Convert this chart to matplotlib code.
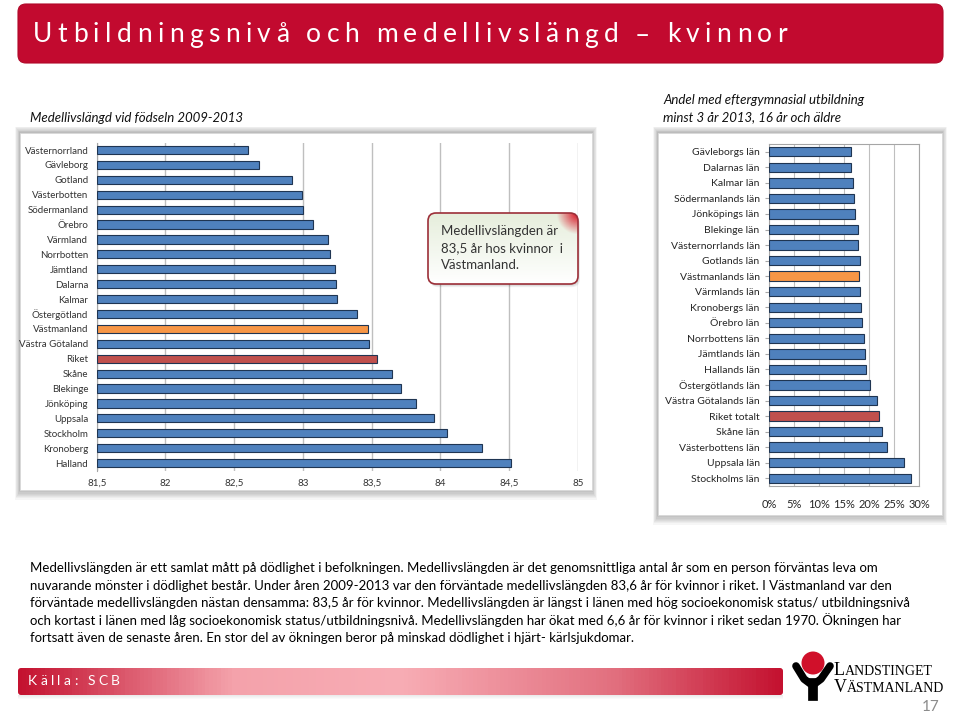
import numpy as np
import matplotlib.pyplot as plt
from matplotlib.patches import FancyBboxPatch, Rectangle, Circle
from matplotlib.colors import LinearSegmentedColormap
from matplotlib.ticker import FuncFormatter, MultipleLocator

# ---------- data ----------
lan_vanster = ["Västernorrland", "Gävleborg", "Gotland", "Västerbotten", "Södermanland",
               "Örebro", "Värmland", "Norrbotten", "Jämtland", "Dalarna", "Kalmar",
               "Östergötland", "Västmanland", "Västra Götaland", "Riket", "Skåne",
               "Blekinge", "Jönköping", "Uppsala", "Stockholm", "Kronoberg", "Halland"]
livslangd = [82.60, 82.68, 82.92, 82.99, 83.00, 83.07, 83.18, 83.20, 83.23, 83.24, 83.25,
             83.39, 83.47, 83.48, 83.54, 83.65, 83.71, 83.82, 83.95, 84.05, 84.30, 84.51]
livslangd_ticks = [81.5, 82, 82.5, 83, 83.5, 84, 84.5, 85]

lan_hoger = ["Gävleborgs län", "Dalarnas län", "Kalmar län", "Södermanlands län",
             "Jönköpings län", "Blekinge län", "Västernorrlands län", "Gotlands län",
             "Västmanlands län", "Värmlands län", "Kronobergs län", "Örebro län",
             "Norrbottens län", "Jämtlands län", "Hallands län", "Östergötlands län",
             "Västra Götalands län", "Riket totalt", "Skåne län", "Västerbottens län",
             "Uppsala län", "Stockholms län"]
andel_utb = [16.3, 16.3, 16.7, 16.9, 17.2, 17.8, 17.8, 18.1, 18.0, 18.1, 18.3, 18.5,
             18.9, 19.1, 19.4, 20.1, 21.6, 22.0, 22.5, 23.5, 26.9, 28.3]

title = "Utbildningsnivå och medellivslängd – kvinnor"
body = [
    "Medellivslängden är ett samlat mått på dödlighet i befolkningen. Medellivslängden är det genomsnittliga antal år som en person förväntas leva om",
    "nuvarande mönster i dödlighet består. Under åren 2009-2013 var den förväntade medellivslängden 83,6 år för kvinnor i riket. I Västmanland var den",
    "förväntade medellivslängden nästan densamma: 83,5 år för kvinnor. Medellivslängden är längst i länen med hög socioekonomisk status/ utbildningsnivå",
    "och kortast i länen med låg socioekonomisk status/utbildningsnivå. Medellivslängden har ökat med 6,6 år för kvinnor i riket sedan 1970. Ökningen har",
    "fortsatt även de senaste åren. En stor del av ökningen beror på minskad dödlighet i hjärt- kärlsjukdomar.",
]

BLUE, ORANGE, RED, EDGE = "#4F81BD", "#F79646", "#C0504D", "#1F3552"
FONT = "Lato"

W, H = 960, 715
fig = plt.figure(figsize=(9.6, 7.15), dpi=100)
fig.patch.set_facecolor("white")
bg = fig.add_axes([0, 0, 1, 1], zorder=0)
bg.set_xlim(0, W)
bg.set_ylim(H, 0)
bg.axis("off")
renderer = fig.canvas.get_renderer()


def pos(x0, y0, x1, y1):
    return [x0 / W, 1 - y1 / H, (x1 - x0) / W, (y1 - y0) / H]


def spaced_text(ax, x, y, s, width, fs, **kw):
    # letter-spaced text stretched to a given pixel width
    arts, ws = [], []
    for ch in s:
        if ch == " ":
            arts.append(None)
            ws.append(fs * 0.3)
        else:
            t = ax.text(x, y, ch, fontsize=fs, ha="left", va="center", **kw)
            arts.append(t)
            ws.append(t.get_window_extent(renderer).width)
    gap = (width - sum(ws)) / (len(s) - 1)
    cx = x
    for t, w in zip(arts, ws):
        if t is not None:
            t.set_x(cx)
        cx += w + gap


def shadow(ax, x0, y0, x1, y1, n=8):
    for i in range(n):
        d = n - i
        ax.add_patch(Rectangle((x0 - d * 0.6, y0 - d * 0.8), x1 - x0 + d * 1.2, y1 - y0 + d * 2,
                               facecolor="black", alpha=0.035, lw=0))


# ---------- header ----------
bg.add_patch(FancyBboxPatch((18, 4), 925, 59, boxstyle="round,pad=0,rounding_size=8",
                            facecolor="#C20A2F", edgecolor="#B00828", lw=0.8))
spaced_text(bg, 33, 35, title, 754, 19, color="white", family=FONT)

# ---------- subtitles ----------
bg.text(30, 118, "Medellivslängd vid födseln 2009-2013", fontsize=9.5, style="italic",
        family=FONT, color="#111111", va="center")
bg.text(663, 100, "Andel med eftergymnasial utbildning", fontsize=9.5, style="italic",
        family=FONT, color="#111111", va="center")
bg.text(663, 117, "minst 3 år 2013, 16 år och äldre", fontsize=9.5, style="italic",
        family=FONT, color="#111111", va="center")

# ---------- panels ----------
shadow(bg, 20, 133, 592, 490)
bg.add_patch(Rectangle((20, 133), 572, 357, facecolor="white", edgecolor="#D9D9D9", lw=0.6))
shadow(bg, 658, 133, 942, 515)
bg.add_patch(Rectangle((658, 133), 284, 382, facecolor="white", edgecolor="#D9D9D9", lw=0.6))

# ---------- left chart ----------
ax1 = fig.add_axes(pos(96.7, 142.6, 578, 470.5), zorder=1)
ax1.set_facecolor("none")
c1 = [ORANGE if n == "Västmanland" else RED if n == "Riket" else BLUE for n in lan_vanster]
ax1.barh(range(len(lan_vanster)), np.array(livslangd) - 81.5, left=81.5, height=0.55,
         color=c1, edgecolor=EDGE, lw=0.8, zorder=3)
ax1.set_xlim(81.5, 85)
ax1.set_ylim(len(lan_vanster) - 0.5, -0.5)
ax1.set_xticks(livslangd_ticks)
ax1.set_xticklabels([f"{v:g}".replace(".", ",") for v in livslangd_ticks])
ax1.set_yticks(range(len(lan_vanster)))
ax1.set_yticklabels(lan_vanster)
ax1.grid(axis="x", color="#BFBFBF", lw=1.0, zorder=0)
for s in ["top", "right", "bottom"]:
    ax1.spines[s].set_visible(False)
ax1.spines["left"].set_color("#A6A6A6")
ax1.tick_params(axis="both", length=0, labelsize=7, colors="#333333", pad=6)
for lab in ax1.get_xticklabels() + ax1.get_yticklabels():
    lab.set_family(FONT)

# ---------- right chart ----------
ax2 = fig.add_axes(pos(769.3, 144, 919.3, 486), zorder=1)
ax2.set_facecolor("white")
c2 = [ORANGE if n.startswith("Västmanland") else RED if n.startswith("Riket") else BLUE
      for n in lan_hoger]
ax2.barh(range(len(lan_hoger)), andel_utb, height=0.6, color=c2, edgecolor=EDGE, lw=0.8,
         zorder=3)
ax2.set_xlim(0, 30)
ax2.set_ylim(len(lan_hoger) - 0.5, -0.5)
ax2.xaxis.set_major_locator(MultipleLocator(5))
ax2.xaxis.set_major_formatter(FuncFormatter(lambda v, p: f"{v:.0f}%"))
ax2.set_yticks(range(len(lan_hoger)))
ax2.set_yticklabels(lan_hoger)
ax2.grid(axis="x", color="#BFBFBF", lw=0.8, zorder=0)
for s in ax2.spines.values():
    s.set_color("#A6A6A6")
ax2.tick_params(axis="y", length=3, color="#A6A6A6", labelsize=7.5, colors="#262626", pad=4)
ax2.tick_params(axis="x", length=0, labelsize=8, colors="#262626", pad=9)
for lab in ax2.get_xticklabels() + ax2.get_yticklabels():
    lab.set_family(FONT)

# ---------- callout ----------
ov = fig.add_axes([0, 0, 1, 1], zorder=2)
ov.set_xlim(0, W)
ov.set_ylim(H, 0)
ov.axis("off")
ov.patch.set_alpha(0)
for i in range(4):
    d = 4 - i
    ov.add_patch(FancyBboxPatch((428 + d * 0.5, 213 + d * 0.8), 150, 71,
                                boxstyle="round,pad=0,rounding_size=8",
                                facecolor="black", alpha=0.05, lw=0))
box = FancyBboxPatch((428, 213), 150, 71, boxstyle="round,pad=0,rounding_size=8",
                     facecolor="none", edgecolor="#9C2F38", lw=1.2, zorder=4)
ov.add_patch(box)
grad = LinearSegmentedColormap.from_list("g", ["#E6EEDC", "#FFFFFF"])
img = ov.imshow(np.linspace(0, 1, 50).reshape(-1, 1) * np.ones((1, 2)), cmap=grad,
                extent=[428, 578, 284, 213], aspect="auto", zorder=3)
img.set_clip_path(box)
yy, xx = np.mgrid[0:40, 0:40]
corner = np.clip(1 - np.hypot(39 - xx, yy) / 30, 0, 1)
rgba = np.zeros((40, 40, 4))
rgba[..., 0] = 0.85
rgba[..., 1] = 0.05
rgba[..., 2] = 0.12
rgba[..., 3] = corner
cimg = ov.imshow(rgba, extent=[550, 578, 241, 213], aspect="auto", zorder=3.5)
cimg.set_clip_path(box)
ov.set_xlim(0, W)
ov.set_ylim(H, 0)
for i, line in enumerate(["Medellivslängden är", "83,5 år hos kvinnor  i", "Västmanland."]):
    ov.text(441, 231 + i * 17, line, fontsize=9.5, family=FONT, color="#333333",
            va="center", zorder=5)

# ---------- body text ----------
for i, line in enumerate(body):
    bg.text(30, 568 + i * 17.5, line, fontsize=9.5, family=FONT, color="#000000", va="center")

# ---------- footer ----------
fbox = FancyBboxPatch((18, 668), 765, 27, boxstyle="round,pad=0,rounding_size=3",
                      facecolor="none", edgecolor="none")
bg.add_patch(fbox)
for i in range(4):
    bg.add_patch(Rectangle((18, 695 + i), 765, 1, facecolor="black", alpha=0.08 - i * 0.02, lw=0))
fcm = LinearSegmentedColormap.from_list(
    "f", [(0, "#C41230"), (0.28, "#F4A2AB"), (0.5, "#F8ADB5"), (0.78, "#E2707F"), (1, "#C41230")])
fimg = bg.imshow(np.linspace(0, 1, 200).reshape(1, -1), cmap=fcm,
                 extent=[18, 783, 695, 668], aspect="auto", zorder=1)
fimg.set_clip_path(fbox)
spaced_text(bg, 28, 681, "Källa: SCB", 92, 10, color="white", family=FONT)

# logo
bg.add_patch(Circle((813, 663), 11.5, facecolor="#D0102A", edgecolor="none", zorder=3))
bg.plot([796, 804, 812], [666, 679, 685], color="black", lw=5.5, solid_capstyle="round", zorder=3)
bg.plot([830, 821, 813], [666, 679, 685], color="black", lw=5.5, solid_capstyle="round", zorder=3)
bg.plot([812.5, 812.5], [683, 696], color="black", lw=7, zorder=3)
for y, word in [(675, "LANDSTINGET"), (692, "VÄSTMANLAND")]:
    t = bg.text(834, y, word[0], fontsize=13, family="Liberation Serif", va="baseline",
                color="black", zorder=3)
    w0 = t.get_window_extent(renderer).width
    bg.text(834 + w0 + 0.3, y, word[1:], fontsize=10, family="Liberation Serif",
            va="baseline", color="black", zorder=3)
bg.text(922, 707, "17", fontsize=11, family=FONT, color="#8C8C8C", va="center")

bg.set_xlim(0, W)
bg.set_ylim(H, 0)
fig.savefig("out.png", dpi=100)
